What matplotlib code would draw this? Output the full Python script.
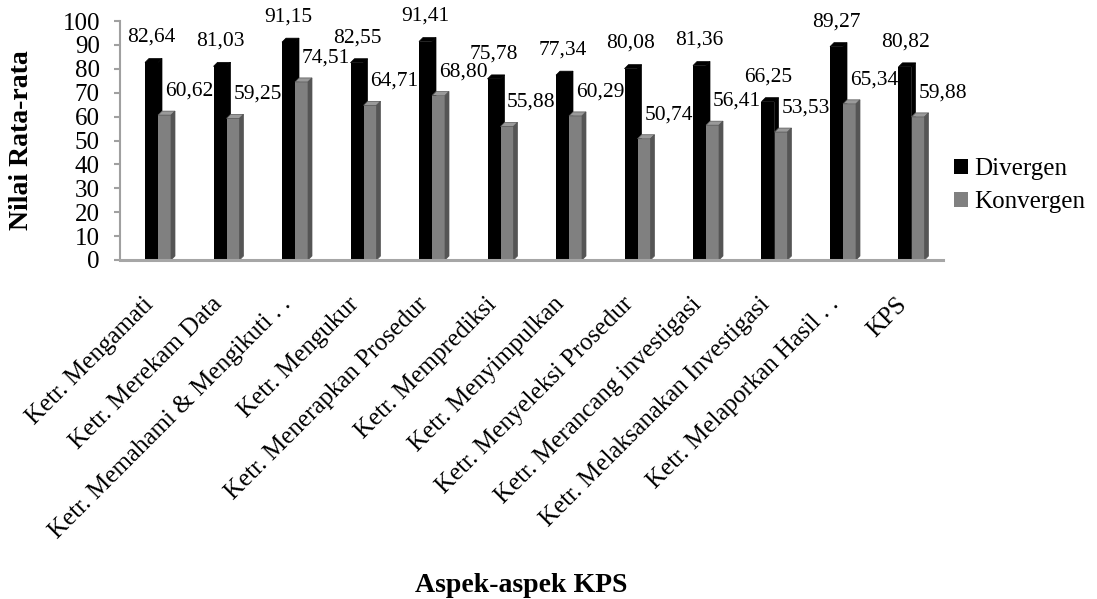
import matplotlib
matplotlib.use("Agg")
import matplotlib.pyplot as plt
from matplotlib.patches import Polygon, Patch
import numpy as np

categories = ["Ketr. Mengamati", "Ketr. Merekam Data", "Ketr. Memahami & Mengikuti . .",
              "Ketr. Mengukur", "Ketr. Menerapkan Prosedur", "Ketr. Memprediksi",
              "Ketr. Menyimpulkan", "Ketr. Menyeleksi Prosedur", "Ketr. Merancang investigasi",
              "Ketr. Melaksanakan Investigasi", "Ketr. Melaporkan Hasil . .", "KPS"]
divergen = [82.64, 81.03, 91.15, 82.55, 91.41, 75.78, 77.34, 80.08, 81.36, 66.25, 89.27, 80.82]
konvergen = [60.62, 59.25, 74.51, 64.71, 68.80, 55.88, 60.29, 50.74, 56.41, 53.53, 65.34, 59.88]
series_names = ["Divergen", "Konvergen"]
yticks = list(range(0, 101, 10))

FONT = "Liberation Serif"
plt.rcParams['font.family'] = 'serif'
plt.rcParams['font.serif'] = [FONT]

W, H = 1097, 599
fig = plt.figure(figsize=(W / 100, H / 100), dpi=100)
ax_left, ax_right, ax_top, ax_bot = 120, 943, 21, 260
ax = fig.add_axes([ax_left / W, 1 - ax_bot / H, (ax_right - ax_left) / W, (ax_bot - ax_top) / H])

step_px = 68.5
first_center_px = 158
x = np.arange(len(categories))
ax.set_xlim(-(first_center_px - ax_left) / step_px, (ax_right - first_center_px) / step_px)
ax.set_ylim(0, 100)

bw = 13 / step_px
dx = 4 / step_px
dy = 4 / ((ax_bot - ax_top) / 100)

black = "#000000"
gfront = "#808080"
gside = "#555555"
gtop = "#9a9a9a"

ax.bar(x - bw / 2, divergen, width=bw, color=black, zorder=3, linewidth=0)
ax.bar(x + bw / 2, konvergen, width=bw, color=gfront, zorder=4, linewidth=0)

for xi, d, k in zip(x, divergen, konvergen):
    x0, x1 = xi - bw, xi
    ax.add_patch(Polygon([(x0, d), (x1, d), (x1 + dx, d + dy), (x0 + dx, d + dy)],
                         closed=True, facecolor=black, edgecolor=black, lw=0.5, zorder=3))
    ax.add_patch(Polygon([(x1, 0), (x1 + dx, dy), (x1 + dx, d + dy), (x1, d)],
                         closed=True, facecolor=black, edgecolor=black, lw=0.5, zorder=2))
    g0, g1 = xi, xi + bw
    ax.add_patch(Polygon([(g0, k), (g1, k), (g1 + dx, k + dy), (g0 + dx, k + dy)],
                         closed=True, facecolor=gtop, edgecolor=gside, lw=0.5, zorder=4))
    ax.add_patch(Polygon([(g1, 0), (g1 + dx, dy), (g1 + dx, k + dy), (g1, k)],
                         closed=True, facecolor=gside, edgecolor=gside, lw=0.5, zorder=4))

lab_off_x = 24.5 / step_px
for xi, d, k in zip(x, divergen, konvergen):
    ax.text(xi - bw / 2, d + 10.5, f"{d:.2f}".replace(".", ","), ha="center", va="center",
            fontsize=15.5, family=FONT, clip_on=False, zorder=6)
    ax.text(xi + bw / 2 + lab_off_x, k + 10, f"{k:.2f}".replace(".", ","), ha="center", va="center",
            fontsize=15.5, family=FONT, clip_on=False, zorder=6)

for s in ["top", "right"]:
    ax.spines[s].set_visible(False)
ax.spines["left"].set_color("#a0a0a0")
ax.spines["left"].set_linewidth(1.5)
ax.spines["bottom"].set_color("#a6a6a6")
ax.spines["bottom"].set_linewidth(2.2)
ax.spines["bottom"].set_zorder(5)

ax.set_yticks(yticks)
ax.set_yticklabels([str(t) for t in yticks], fontsize=18, family=FONT)
ax.tick_params(axis="y", length=4.5, width=1.5, color="#a0a0a0", pad=10)
ax.set_xticks(x)
ax.set_xticklabels(categories, rotation=45, ha="right", va="top", fontsize=18, family=FONT)
ax.tick_params(axis="x", length=0, pad=24)

fig.text(22 / W, 1 - 140 / H, "Nilai Rata-rata", rotation=90, ha="center", va="center",
         fontsize=20, fontweight="bold", family=FONT)
fig.text(521 / W, 1 - 586 / H, "Aspek-aspek KPS", ha="center", va="center",
         fontsize=20, fontweight="bold", family=FONT)

handles = [Patch(facecolor=black, edgecolor="none"), Patch(facecolor=gfront, edgecolor="none")]
fig.legend(handles, series_names, loc="upper left", bbox_to_anchor=(954 / W, 1 - 158 / H),
           frameon=False, prop={"family": FONT, "size": 18}, handlelength=0.55, handleheight=0.55,
           handletextpad=0.25, labelspacing=0.45, borderpad=0, borderaxespad=0)

fig.savefig("out.png", dpi=100)
